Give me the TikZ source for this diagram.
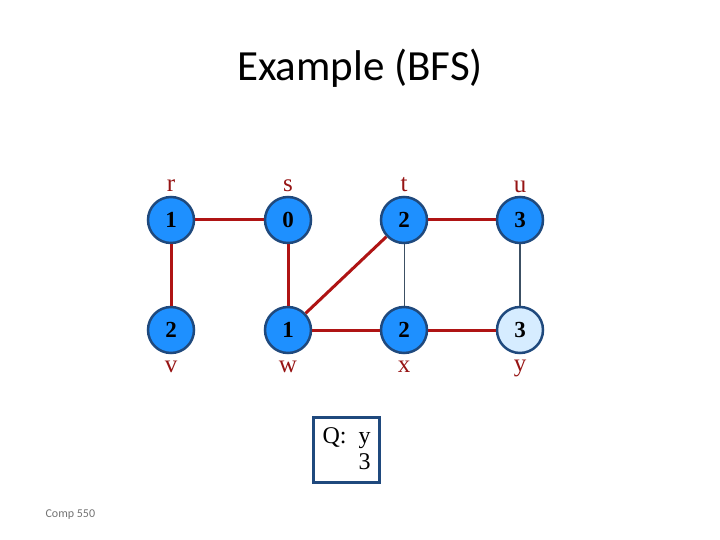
\documentclass[tikz,border=0pt]{standalone}
\usepackage{fontspec}
\setmainfont{Liberation Serif}
\newfontfamily\titlefont{Carlito}
\definecolor{nodeblue}{RGB}{30,144,255}
\definecolor{nodeline}{RGB}{31,73,125}
\definecolor{lightblue}{RGB}{214,236,255}
\definecolor{edgered}{RGB}{175,20,20}
\definecolor{labelred}{RGB}{150,20,20}
\definecolor{thinline}{RGB}{60,80,100}
\begin{document}
\begin{tikzpicture}[x=1pt,y=-1pt,
    vertex/.style={circle, draw=nodeline, line width=2.5pt, fill=nodeblue, minimum size=46pt, inner sep=0pt, font=\fontsize{23}{23}\selectfont\bfseries},
    treeedge/.style={edgered, line width=3pt},
    plainedge/.style={thinline, line width=0.8pt},
    vname/.style={anchor=base, text=labelred, font=\fontsize{25}{25}\selectfont}]
        \useasboundingbox (0,0) rectangle (720,540);

        \node[font=\titlefont\fontsize{43}{43}\selectfont] (title) at (360,68) {Example (BFS)};

        % Vertices
        \node[vertex] (r) at (171,220) {1};
        \node[vertex] (s) at (288,220) {0};
        \node[vertex] (t) at (404,220) {2};
        \node[vertex] (u) at (520,220) {3};
        \node[vertex] (v) at (171,330) {2};
        \node[vertex] (w) at (288,330) {1};
        \node[vertex] (x) at (404,330) {2};
        \node[vertex, fill=lightblue] (y) at (520,330) {3};

        % Labels
        \node[vname] (rl) at (171,192) {r};
        \node[vname] (sl) at (288,192) {s};
        \node[vname] (tl) at (404,192) {t};
        \node[vname] (ul) at (520,193) {u};
        \node[vname] (vl) at (171,372) {v};
        \node[vname] (wl) at (288,372) {w};
        \node[vname] (xl) at (404,372) {x};
        \node[vname] (yl) at (520,371) {y};

        % Edges
        \draw[treeedge] (r) -- (s);
        \draw[treeedge] (r) -- (v);
        \draw[treeedge] (s) -- (w);
        \draw[treeedge] (w) -- (t);
        \draw[treeedge] (w) -- (x);
        \draw[treeedge] (t) -- (u);
        \draw[treeedge] (x) -- (y);
        \draw[plainedge] (t) -- (x);
        \draw[plainedge, line width=1.3pt] (u) -- (y);

        % Queue
        \node[draw=nodeline, line width=2.5pt, minimum width=66pt, minimum height=65pt, inner sep=0pt, align=left,
              font=\fontsize{24}{26}\selectfont] (queue) at (346.5,450) {Q:\ \ y\\\phantom{Q:\ \ }3};

        \node[anchor=west, text=black!55, font=\titlefont\fontsize{12}{12}\selectfont] (footer) at (42,515) {Comp 550};
    \end{tikzpicture}
\end{document}
